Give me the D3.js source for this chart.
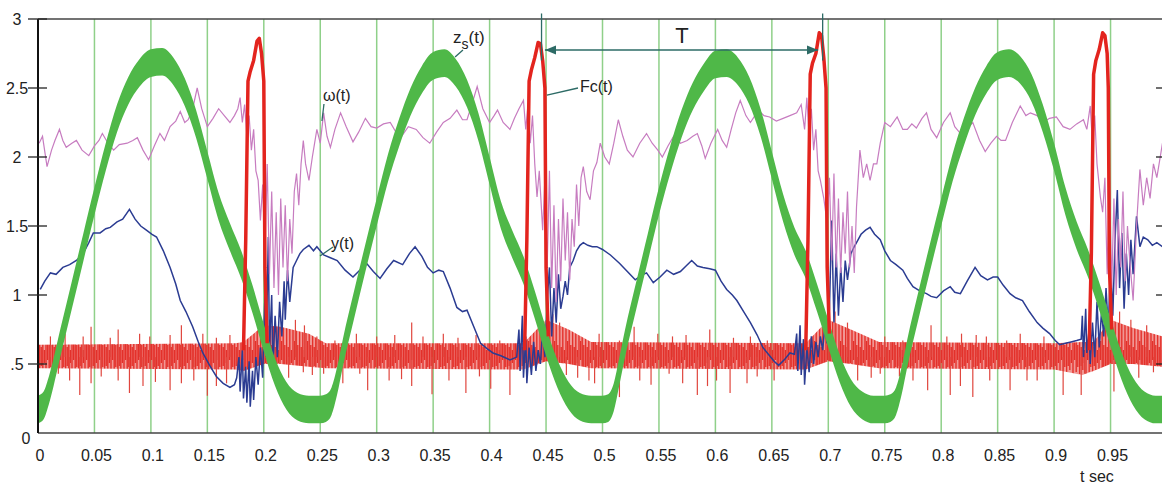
<!DOCTYPE html>
<html>
<head>
<meta charset="utf-8">
<script src="https://cdn.jsdelivr.net/npm/d3@7/dist/d3.min.js"></script>
<style>
  body { margin: 0; background: #fff; }
  text { font-family: "Liberation Sans", Arial, sans-serif; fill: #222; }
</style>
</head>
<body>
<div id="chart"></div>
<script>
// ---- data ----
var xTicks = [0, 0.05, 0.1, 0.15, 0.2, 0.25, 0.3, 0.35, 0.4, 0.45, 0.5, 0.55, 0.6, 0.65, 0.7, 0.75, 0.8, 0.85, 0.9, 0.95]
var xTickLabels = ["0", "0.05", "0.1", "0.15", "0.2", "0.25", "0.3", "0.35", "0.4", "0.45", "0.5", "0.55", "0.6", "0.65", "0.7", "0.75", "0.8", "0.85", "0.9", "0.95"]
var yTicks = [0, 0.5, 1, 1.5, 2, 2.5, 3]
var yTickLabels = ["0", ".5", "1", "1.5", "2", "2.5", "3"]

// zs(t): centre of the thick green band
var zsTime = [0, 0.005, 0.01, 0.02, 0.03, 0.04, 0.05, 0.06, 0.07, 0.08, 0.09,
  0.10, 0.11, 0.12, 0.13, 0.14, 0.15, 0.16, 0.17, 0.18, 0.19,
  0.20, 0.21, 0.22, 0.23, 0.24, 0.25, 0.255, 0.26, 0.265, 0.27, 0.28, 0.29,
  0.30, 0.31, 0.32, 0.33, 0.34, 0.35, 0.36, 0.37, 0.38, 0.39,
  0.40, 0.41, 0.42, 0.43, 0.44, 0.45, 0.46, 0.47, 0.48, 0.49,
  0.50, 0.505, 0.51, 0.515, 0.52, 0.53, 0.54, 0.55, 0.56, 0.57, 0.58, 0.59,
  0.60, 0.61, 0.62, 0.63, 0.64, 0.65, 0.66, 0.67, 0.68, 0.69,
  0.70, 0.71, 0.72, 0.73, 0.74, 0.75, 0.755, 0.76, 0.765, 0.77, 0.78, 0.79,
  0.80, 0.81, 0.82, 0.83, 0.84, 0.85, 0.86, 0.87, 0.88, 0.89,
  0.90, 0.91, 0.92, 0.93, 0.94, 0.95, 0.96, 0.97, 0.98, 0.99, 0.996]
var zsValue = [0.17, 0.2, 0.32, 0.66, 1.0, 1.34, 1.68, 2.0, 2.28, 2.48, 2.61,
  2.68, 2.69, 2.62, 2.47, 2.24, 1.94, 1.64, 1.42, 1.22, 0.97,
  0.69, 0.44, 0.27, 0.19, 0.17, 0.17, 0.18, 0.23, 0.38, 0.58, 0.93, 1.27,
  1.6, 1.92, 2.18, 2.4, 2.56, 2.66, 2.68, 2.61, 2.46, 2.22,
  1.9, 1.58, 1.37, 1.18, 0.93, 0.66, 0.43, 0.27, 0.19, 0.17,
  0.17, 0.18, 0.26, 0.45, 0.65, 1.0, 1.34, 1.68, 1.98, 2.24, 2.44, 2.58,
  2.67, 2.68, 2.62, 2.48, 2.25, 1.94, 1.63, 1.39, 1.22, 0.98,
  0.72, 0.47, 0.29, 0.2, 0.17, 0.17, 0.18, 0.23, 0.38, 0.58, 0.93, 1.27,
  1.6, 1.92, 2.18, 2.4, 2.56, 2.66, 2.68, 2.63, 2.5, 2.28,
  2.0, 1.68, 1.43, 1.23, 0.99, 0.73, 0.48, 0.3, 0.2, 0.17, 0.17]
var zsSpread = 0.1

// y(t)
var yTime = [0.002, 0.006, 0.011, 0.016, 0.022, 0.028, 0.034, 0.040, 0.045, 0.049, 0.055, 0.060, 0.064, 0.070, 0.075, 0.081, 0.086, 0.091, 0.096, 0.101,
  0.105, 0.111, 0.117, 0.122, 0.126, 0.131, 0.137, 0.142, 0.146, 0.152, 0.158, 0.164, 0.170, 0.174, 0.176,
  0.178, 0.179, 0.181, 0.182, 0.184, 0.185, 0.187, 0.188, 0.190, 0.191, 0.193, 0.195, 0.197, 0.199, 0.201, 0.202, 0.204, 0.205, 0.207, 0.208,
  0.210, 0.212, 0.214, 0.216, 0.218, 0.219, 0.221, 0.223, 0.226, 0.229, 0.232, 0.235, 0.240, 0.244, 0.247,
  0.253, 0.259, 0.265, 0.272, 0.279, 0.285, 0.291, 0.297, 0.303, 0.309, 0.315, 0.323, 0.329, 0.334, 0.340, 0.345, 0.350, 0.355, 0.359, 0.365,
  0.371, 0.376, 0.380, 0.386, 0.392, 0.398, 0.403, 0.410, 0.418, 0.424,
  0.426, 0.427, 0.429, 0.430, 0.432, 0.433, 0.435, 0.437, 0.439, 0.441, 0.443, 0.445, 0.447, 0.449, 0.451, 0.453, 0.455, 0.457, 0.459, 0.461,
  0.463, 0.465, 0.467, 0.469, 0.471, 0.474, 0.477, 0.480, 0.483, 0.487, 0.491, 0.495,
  0.500, 0.507, 0.515, 0.522, 0.529, 0.534, 0.539, 0.545, 0.551, 0.557, 0.563, 0.569, 0.574, 0.579, 0.584, 0.589, 0.595, 0.600, 0.605, 0.610,
  0.615, 0.619, 0.625, 0.631, 0.637, 0.642, 0.648, 0.652, 0.656, 0.661, 0.666, 0.670,
  0.672, 0.673, 0.675, 0.676, 0.678, 0.679, 0.681, 0.683, 0.685, 0.687, 0.689, 0.691, 0.693, 0.695, 0.697, 0.699, 0.701, 0.703, 0.705, 0.707,
  0.709, 0.711, 0.713, 0.715, 0.717, 0.720, 0.723, 0.725, 0.729, 0.733, 0.737, 0.741, 0.746,
  0.750, 0.755, 0.760, 0.766, 0.770, 0.775, 0.781, 0.787, 0.791, 0.796, 0.802, 0.808, 0.812, 0.817, 0.823, 0.830, 0.835, 0.841, 0.846, 0.850,
  0.855, 0.861, 0.866, 0.872, 0.878, 0.885, 0.890, 0.896, 0.901, 0.905, 0.910, 0.915, 0.920, 0.924,
  0.925, 0.926, 0.928, 0.929, 0.931, 0.932, 0.934, 0.936, 0.938, 0.940, 0.942, 0.944, 0.946, 0.948, 0.950, 0.952, 0.954, 0.956, 0.958, 0.960,
  0.962, 0.964, 0.966, 0.968, 0.970, 0.973, 0.976, 0.979, 0.983, 0.987, 0.991, 0.996]
var yValue = [1.04, 1.10, 1.16, 1.15, 1.20, 1.22, 1.25, 1.30, 1.38, 1.45, 1.45, 1.48, 1.49, 1.53, 1.55, 1.62, 1.55, 1.50, 1.47, 1.44,
  1.42, 1.32, 1.20, 1.08, 0.96, 0.88, 0.77, 0.66, 0.58, 0.49, 0.41, 0.36, 0.33, 0.35, 0.40,
  0.55, 0.30, 0.60, 0.25, 0.48, 0.22, 0.52, 0.19, 0.45, 0.24, 0.55, 0.35, 0.62, 0.40, 1.0, 0.55, 1.42, 0.60, 1.0, 0.45,
  0.85, 0.55, 0.95, 0.70, 1.10, 0.82, 1.18, 0.95, 1.20, 1.25, 1.30, 1.33, 1.36, 1.32, 1.35,
  1.29, 1.27, 1.25, 1.18, 1.13, 1.18, 1.23, 1.17, 1.12, 1.19, 1.25, 1.22, 1.30, 1.35, 1.28, 1.20, 1.16, 1.18, 1.17, 1.05,
  0.91, 0.88, 0.89, 0.77, 0.65, 0.61, 0.58, 0.56, 0.53, 0.55,
  0.75, 0.45, 0.85, 0.40, 0.70, 0.36, 0.62, 0.42, 0.66, 0.45, 0.60, 0.50, 0.75, 0.55, 0.95, 1.20, 0.70, 1.05, 0.80, 1.15,
  0.90, 0.99, 1.10, 1.0, 1.20, 1.25, 1.32, 1.36, 1.38, 1.36, 1.35, 1.35,
  1.33, 1.29, 1.23, 1.17, 1.11, 1.14, 1.16, 1.09, 1.13, 1.18, 1.15, 1.17, 1.21, 1.25, 1.21, 1.20, 1.19, 1.18, 1.10, 1.04,
  1.00, 0.96, 0.88, 0.80, 0.71, 0.62, 0.56, 0.52, 0.49, 0.53, 0.58, 0.57,
  0.72, 0.45, 0.78, 0.42, 0.68, 0.35, 0.62, 0.44, 0.70, 0.50, 0.66, 0.55, 0.70, 0.60, 0.78, 0.65, 0.9, 1.54, 0.80, 1.30,
  0.85, 1.2, 0.95, 1.25, 1.11, 1.30, 1.35, 1.38, 1.44, 1.47, 1.49, 1.44, 1.40,
  1.32, 1.25, 1.22, 1.18, 1.12, 1.06, 1.03, 1.01, 0.99, 0.98, 1.03, 1.06, 1.02, 1.01, 1.10, 1.20, 1.14, 1.11, 1.13, 1.13,
  1.07, 1.01, 0.98, 0.96, 0.88, 0.80, 0.76, 0.72, 0.67, 0.64, 0.65, 0.66, 0.67, 0.68,
  0.85, 0.55, 0.90, 0.58, 0.75, 0.50, 0.80, 0.55, 0.95, 0.62, 0.88, 0.70, 1.05, 0.75, 1.25, 0.85, 1.4, 1.76, 1.05, 1.45,
  0.90, 1.30, 1.0, 1.4, 1.15, 1.57, 1.35, 1.42, 1.40, 1.36, 1.38, 1.35]

// omega(t)
var wTime = [0.001, 0.004, 0.008, 0.012, 0.015, 0.019, 0.022, 0.025, 0.030, 0.034, 0.039, 0.045, 0.050, 0.054, 0.057, 0.062, 0.067, 0.072, 0.079, 0.084,
  0.088, 0.093, 0.098, 0.103, 0.108, 0.112, 0.117, 0.122, 0.126, 0.130, 0.133, 0.137, 0.141, 0.145, 0.150, 0.155, 0.160, 0.165, 0.170, 0.174,
  0.177, 0.179, 0.181, 0.183, 0.185, 0.187, 0.189, 0.191, 0.193, 0.195, 0.197,
  0.199, 0.201, 0.203, 0.205, 0.207, 0.209, 0.211, 0.213, 0.215, 0.217, 0.219, 0.221, 0.223, 0.225, 0.227, 0.229, 0.231, 0.233, 0.235, 0.237,
  0.240, 0.243, 0.247, 0.250, 0.253, 0.256, 0.259, 0.263, 0.268, 0.273, 0.279, 0.284, 0.290, 0.295, 0.300, 0.306, 0.312, 0.317, 0.322, 0.328,
  0.335, 0.341, 0.347, 0.353, 0.359, 0.365, 0.371, 0.376, 0.380, 0.385, 0.389, 0.394, 0.400, 0.404, 0.407, 0.412, 0.418, 0.422, 0.426, 0.430,
  0.432, 0.434, 0.436, 0.438, 0.440, 0.442, 0.444, 0.447,
  0.449, 0.451, 0.453, 0.455, 0.457, 0.459, 0.461, 0.463, 0.465, 0.467, 0.469, 0.471, 0.473, 0.475, 0.477, 0.479, 0.481, 0.483, 0.486, 0.489,
  0.492, 0.495, 0.498, 0.502, 0.506, 0.510, 0.514, 0.518, 0.522, 0.527, 0.533, 0.539, 0.544, 0.549, 0.553, 0.558, 0.563, 0.569, 0.575, 0.580,
  0.584, 0.588, 0.591, 0.596, 0.602, 0.606, 0.610, 0.614, 0.618, 0.622, 0.627, 0.631, 0.635, 0.638, 0.643, 0.648, 0.654, 0.660, 0.666, 0.672,
  0.676, 0.679, 0.681, 0.683, 0.685, 0.687, 0.689, 0.691, 0.693, 0.696, 0.699,
  0.701, 0.703, 0.705, 0.707, 0.709, 0.711, 0.713, 0.715, 0.717, 0.719, 0.721, 0.723, 0.725, 0.728, 0.731, 0.734, 0.737, 0.740, 0.743, 0.746,
  0.750, 0.755, 0.761, 0.766, 0.770, 0.774, 0.778, 0.783, 0.787, 0.791, 0.796, 0.802, 0.808, 0.812, 0.817, 0.822, 0.828, 0.834, 0.839, 0.844,
  0.849, 0.853, 0.857, 0.863, 0.870, 0.875, 0.879, 0.885, 0.890, 0.896, 0.902, 0.908, 0.914, 0.920, 0.926, 0.929, 0.932, 0.934, 0.936, 0.938,
  0.941, 0.943, 0.945, 0.947, 0.949, 0.951, 0.953, 0.955, 0.957, 0.959, 0.961, 0.963, 0.965, 0.967, 0.970, 0.973, 0.976, 0.979, 0.982, 0.985,
  0.988, 0.991, 0.994, 0.996]
var wValue = [2.10, 2.15, 1.93, 2.05, 2.12, 2.20, 2.12, 2.07, 2.10, 2.12, 2.05, 2.01, 2.08, 2.12, 2.17, 2.10, 2.05, 2.09, 2.10, 2.12,
  2.14, 2.05, 1.98, 2.08, 2.17, 2.12, 2.22, 2.26, 2.33, 2.25, 2.27, 2.35, 2.5, 2.35, 2.22, 2.28, 2.35, 2.30, 2.25, 2.30,
  2.35, 2.43, 2.25, 2.38, 2.15, 2.30, 2.05, 2.2, 1.9, 1.83, 1.54,
  1.8, 1.3, 1.95, 1.15, 1.75, 1.05, 1.6, 1.0, 1.7, 1.2, 1.65, 1.1, 1.55, 1.3, 1.75, 1.88, 1.65, 1.95, 2.12, 1.95,
  1.83, 2.0, 2.20, 2.1, 2.32, 2.15, 2.07, 2.2, 2.32, 2.22, 2.11, 2.18, 2.28, 2.22, 2.21, 2.24, 2.25, 2.18, 2.15, 2.22,
  2.20, 2.14, 2.10, 2.18, 2.25, 2.28, 2.34, 2.27, 2.27, 2.40, 2.51, 2.35, 2.25, 2.3, 2.34, 2.25, 2.20, 2.28, 2.35, 2.41,
  2.2, 2.38, 2.1, 2.3, 1.95, 1.71, 1.9, 1.47,
  1.85, 1.2, 1.9, 1.05, 1.65, 0.95, 1.55, 1.1, 1.7, 1.25, 1.6, 1.11, 1.55, 1.35, 1.8, 1.5, 1.85, 1.93, 1.75, 1.69,
  1.9, 1.96, 2.10, 2.0, 1.95, 2.1, 2.27, 2.15, 2.05, 2.00, 2.1, 2.17, 2.1, 2.05, 2.00, 2.08, 2.15, 2.1, 2.12, 2.15,
  2.17, 2.08, 1.99, 2.1, 2.20, 2.12, 2.07, 2.2, 2.32, 2.41, 2.3, 2.25, 2.3, 2.34, 2.3, 2.29, 2.26, 2.28, 2.3, 2.32,
  2.38, 2.2, 2.43, 2.15, 2.35, 2.05, 2.2, 1.9, 1.83, 1.7, 1.52,
  1.85, 1.25, 1.88, 1.2, 1.7, 1.16, 1.6, 1.3, 1.75, 1.2, 1.5, 1.16, 1.64, 2.05, 1.85, 1.95, 1.83, 1.95, 1.95, 2.10,
  2.25, 2.22, 2.29, 2.2, 2.20, 2.24, 2.21, 2.28, 2.32, 2.2, 2.14, 2.25, 2.32, 2.22, 2.17, 2.2, 2.25, 2.12, 2.04, 2.1,
  2.15, 2.12, 2.12, 2.25, 2.37, 2.3, 2.32, 2.3, 2.25, 2.28, 2.29, 2.22, 2.20, 2.24, 2.27, 2.2, 2.37, 2.1, 2.3, 1.95,
  1.71, 1.6, 1.85, 1.15, 1.86, 1.05, 1.7, 1.0, 1.55, 1.2, 1.75, 1.1, 1.5, 1.25, 0.96, 1.5, 1.91, 1.65, 1.85, 1.70,
  1.95, 1.85, 2.0, 2.1]

// Fc(t): dense noise band, its spikes, and the four pulses
var fcBandTime = [0, 0.175, 0.182, 0.2, 0.215, 0.24, 0.255, 0.43, 0.45, 0.47, 0.49, 0.68, 0.70, 0.72, 0.745, 0.90, 0.925, 0.935, 0.95, 0.97, 0.996]
var fcBandLow = [0.47, 0.46, 0.45, 0.5, 0.5, 0.48, 0.47, 0.46, 0.52, 0.5, 0.47, 0.46, 0.52, 0.5, 0.47, 0.46, 0.42, 0.45, 0.5, 0.5, 0.48]
var fcBandHigh = [0.64, 0.65, 0.66, 0.78, 0.77, 0.72, 0.65, 0.65, 0.82, 0.75, 0.66, 0.65, 0.82, 0.75, 0.66, 0.65, 0.66, 0.66, 0.82, 0.76, 0.7]
var fcLevel = 0.55

var fcSpikeTime = [0.018, 0.028, 0.037, 0.047, 0.056, 0.071, 0.081, 0.093, 0.104, 0.117, 0.127, 0.138, 0.150, 0.158, 0.167,
  0.011, 0.024, 0.040, 0.047, 0.064, 0.071, 0.090, 0.099, 0.117, 0.127, 0.146, 0.158, 0.170,
  0.222, 0.235, 0.243, 0.228, 0.236,
  0.253, 0.270, 0.285, 0.292, 0.311, 0.322, 0.331, 0.349, 0.364, 0.379, 0.391, 0.401, 0.418,
  0.247, 0.263, 0.282, 0.300, 0.316, 0.331, 0.341, 0.359, 0.372, 0.388, 0.409,
  0.468, 0.478, 0.488, 0.456, 0.462,
  0.493, 0.515, 0.533, 0.543, 0.559, 0.571, 0.584, 0.593, 0.601, 0.613, 0.628, 0.637, 0.652,
  0.497, 0.515, 0.528, 0.549, 0.562, 0.574, 0.595, 0.616, 0.631, 0.646,
  0.712, 0.726, 0.738, 0.706, 0.717,
  0.746, 0.763, 0.775, 0.788, 0.808, 0.817, 0.828, 0.843, 0.861, 0.876, 0.885, 0.908, 0.924, 0.927,
  0.750, 0.766, 0.791, 0.805, 0.818, 0.831, 0.840, 0.858, 0.870, 0.891,
  0.953, 0.962, 0.975, 0.988, 0.958, 0.968, 0.982]
var fcSpikeValue = [0.43, 0.38, 0.275, 0.36, 0.41, 0.38, 0.29, 0.34, 0.37, 0.31, 0.36, 0.38, 0.27, 0.34, 0.36,
  0.70, 0.72, 0.70, 0.77, 0.69, 0.75, 0.72, 0.70, 0.71, 0.78, 0.72, 0.69, 0.71,
  0.40, 0.44, 0.42, 0.82, 0.78,
  0.43, 0.36, 0.43, 0.31, 0.38, 0.39, 0.34, 0.28, 0.38, 0.29, 0.41, 0.32, 0.275,
  0.70, 0.67, 0.72, 0.70, 0.71, 0.80, 0.70, 0.72, 0.69, 0.71, 0.67,
  0.42, 0.40, 0.38, 0.86, 0.80,
  0.36, 0.26, 0.38, 0.35, 0.43, 0.36, 0.275, 0.34, 0.38, 0.29, 0.36, 0.41, 0.38,
  0.72, 0.67, 0.77, 0.72, 0.70, 0.71, 0.75, 0.69, 0.70, 0.67,
  0.40, 0.38, 0.40, 0.88, 0.80,
  0.43, 0.41, 0.38, 0.31, 0.275, 0.34, 0.26, 0.38, 0.31, 0.38, 0.38, 0.275, 0.275, 0.43,
  0.70, 0.67, 0.78, 0.70, 0.72, 0.71, 0.70, 0.67, 0.72, 0.70,
  0.30, 0.42, 0.40, 0.44, 0.88, 0.82, 0.78]

var fcPulseTime = [
  [0.182, 0.184, 0.186, 0.188, 0.191, 0.194, 0.196, 0.198, 0.200, 0.201, 0.203],
  [0.431, 0.433, 0.435, 0.437, 0.440, 0.443, 0.445, 0.447, 0.449, 0.450, 0.452],
  [0.680, 0.682, 0.684, 0.686, 0.689, 0.692, 0.694, 0.696, 0.698, 0.699, 0.701],
  [0.931, 0.933, 0.935, 0.937, 0.940, 0.943, 0.945, 0.947, 0.948, 0.949, 0.951]
]
var fcPulseValue = [
  [0.6, 1.4, 2.55, 2.62, 2.7, 2.84, 2.86, 2.75, 2.55, 1.2, 0.65],
  [0.6, 1.4, 2.55, 2.63, 2.72, 2.83, 2.82, 2.7, 2.5, 1.2, 0.7],
  [0.6, 1.4, 2.6, 2.68, 2.75, 2.9, 2.88, 2.72, 2.5, 1.2, 0.72],
  [0.6, 1.3, 2.6, 2.7, 2.78, 2.9, 2.88, 2.75, 2.5, 1.2, 0.75]
]

// period markers and T span
var periodMarks = [0.446, 0.695]
var periodSpan = [0.449, 0.691]

// ---- drawing ----
var width = 1162, height = 486

var svg = d3.select("#chart")
  .append("svg")
  .attr("width", width)
  .attr("height", height)
  .style("display", "block")

var xPositionScale = d3.scaleLinear().domain([0, 1]).range([38, 1167])
var yPositionScale = d3.scaleLinear().domain([0, 3]).range([433, 19])
var xRight = 1162

var teal = "#2d6b66"
var red = "#e3302a"

// texture for the dense Fc noise: short vertical strokes of uneven length
var defs = svg.append("defs")
var hatch = defs.append("pattern")
  .attr("id", "fcnoise")
  .attr("patternUnits", "userSpaceOnUse")
  .attr("width", 13).attr("height", height)
hatch.append("rect").attr("width", 13).attr("height", height)
  .attr("fill", red).attr("fill-opacity", 0.5)
var strokes = [[0.6, 316, 374], [2.2, 347, 366], [3.8, 318, 370], [5.4, 350, 363],
  [7.0, 316, 374], [8.6, 341, 360], [10.2, 320, 372], [11.8, 345, 367]]
strokes.forEach(function(s) {
  hatch.append("line")
    .attr("x1", s[0]).attr("x2", s[0])
    .attr("y1", s[1]).attr("y2", s[2])
    .attr("stroke", red).attr("stroke-width", 1.4)
})

// vertical green grid
svg.selectAll(".grid")
  .data(xTicks.slice(1))
  .enter().append("line")
  .attr("class", "grid")
  .attr("x1", d => xPositionScale(d))
  .attr("x2", d => xPositionScale(d))
  .attr("y1", yPositionScale(3))
  .attr("y2", yPositionScale(0))
  .attr("stroke", "#8fd089")
  .attr("stroke-width", 1.5)

// frame
svg.append("line")
  .attr("x1", xPositionScale(0)).attr("x2", xRight)
  .attr("y1", yPositionScale(3)).attr("y2", yPositionScale(3))
  .attr("stroke", "#444").attr("stroke-width", 1.5)
svg.append("line")
  .attr("x1", xPositionScale(0)).attr("x2", xRight)
  .attr("y1", yPositionScale(0)).attr("y2", yPositionScale(0))
  .attr("stroke", "#444").attr("stroke-width", 1.5)

// Fc band
var bandPts = fcBandTime.map((t, i) => ({ t: t, lo: fcBandLow[i], hi: fcBandHigh[i] }))
svg.append("path")
  .datum(bandPts)
  .attr("d", d3.area()
    .x(d => xPositionScale(d.t))
    .y0(d => yPositionScale(d.lo))
    .y1(d => yPositionScale(d.hi)))
  .attr("fill", "url(#fcnoise)")

svg.selectAll(".spike")
  .data(fcSpikeTime.map((t, i) => ({ t: t, v: fcSpikeValue[i] })))
  .enter().append("line")
  .attr("class", "spike")
  .attr("x1", d => xPositionScale(d.t))
  .attr("x2", d => xPositionScale(d.t))
  .attr("y1", yPositionScale(fcLevel))
  .attr("y2", d => yPositionScale(d.v))
  .attr("stroke", "#e0463e")
  .attr("stroke-width", 1.2)

var line = d3.line()
  .x(d => xPositionScale(d.t))
  .y(d => yPositionScale(d.v))

// y(t)
svg.append("path")
  .datum(yTime.map((t, i) => ({ t: t, v: yValue[i] })))
  .attr("d", line)
  .attr("fill", "none")
  .attr("stroke", "#2b3c92")
  .attr("stroke-width", 1.5)

// omega(t)
svg.append("path")
  .datum(wTime.map((t, i) => ({ t: t, v: wValue[i] })))
  .attr("d", line)
  .attr("fill", "none")
  .attr("stroke", "#c77cc0")
  .attr("stroke-width", 1.2)

// zs(t) thick noisy band
var zsPts = zsTime.map((t, i) => ({ t: t, v: zsValue[i] }))
svg.append("path")
  .datum(zsPts)
  .attr("d", d3.area()
    .curve(d3.curveMonotoneX)
    .x(d => xPositionScale(d.t))
    .y0(d => yPositionScale(d.v - zsSpread))
    .y1(d => yPositionScale(d.v + zsSpread)))
  .attr("fill", "#4fb848")

// Fc pulses
fcPulseTime.forEach(function(ts, k) {
  svg.append("path")
    .datum(ts.map((t, i) => ({ t: t, v: fcPulseValue[k][i] })))
    .attr("d", line)
    .attr("fill", "none")
    .attr("stroke", "#e3241e")
    .attr("stroke-width", 3.5)
    .attr("stroke-linejoin", "round")
})

// left axis line and ticks
svg.append("line")
  .attr("x1", xPositionScale(0)).attr("x2", xPositionScale(0))
  .attr("y1", yPositionScale(3)).attr("y2", yPositionScale(0))
  .attr("stroke", "#111").attr("stroke-width", 2)

svg.selectAll(".ytick")
  .data(yTicks.slice(1))
  .enter().append("line")
  .attr("class", "ytick")
  .attr("x1", xPositionScale(0) - 10)
  .attr("x2", xPositionScale(0) + 9)
  .attr("y1", d => yPositionScale(d))
  .attr("y2", d => yPositionScale(d))
  .attr("stroke", "#222").attr("stroke-width", 1.3)

svg.selectAll(".ytick-r")
  .data(yTicks.slice(1, -1))
  .enter().append("line")
  .attr("class", "ytick-r")
  .attr("x1", xRight - 6)
  .attr("x2", xRight)
  .attr("y1", d => yPositionScale(d))
  .attr("y2", d => yPositionScale(d))
  .attr("stroke", "#222").attr("stroke-width", 1.3)

svg.selectAll(".ylabel")
  .data(yTicks)
  .enter().append("text")
  .attr("class", "ylabel")
  .attr("x", (d, i) => i === 0 ? 26 : 17)
  .attr("y", (d, i) => yPositionScale(d) + (i === 0 ? 11 : 6))
  .attr("text-anchor", "middle")
  .attr("font-size", 16)
  .text((d, i) => yTickLabels[i])

// x labels
svg.selectAll(".xlabel")
  .data(xTicks)
  .enter().append("text")
  .attr("class", "xlabel")
  .attr("x", d => xPositionScale(d) + 2)
  .attr("y", 461)
  .attr("text-anchor", "middle")
  .attr("font-size", 16)
  .text((d, i) => xTickLabels[i])

svg.append("text")
  .attr("x", xPositionScale(0.923))
  .attr("y", 482)
  .attr("font-size", 16)
  .text("t sec")

// period marks and T arrow
svg.selectAll(".pmark")
  .data(periodMarks)
  .enter().append("line")
  .attr("class", "pmark")
  .attr("x1", d => xPositionScale(d))
  .attr("x2", d => xPositionScale(d))
  .attr("y1", yPositionScale(3.04))
  .attr("y2", yPositionScale(2.7))
  .attr("stroke", teal).attr("stroke-width", 1.3)

defs.append("marker")
  .attr("id", "arrow")
  .attr("viewBox", "0 0 10 10")
  .attr("refX", 10).attr("refY", 5)
  .attr("markerWidth", 7).attr("markerHeight", 7)
  .attr("orient", "auto-start-reverse")
  .append("path")
  .attr("d", "M0,1L10,5L0,9Z")
  .attr("fill", teal)

svg.append("line")
  .attr("x1", xPositionScale(periodSpan[0]))
  .attr("x2", xPositionScale(periodSpan[1]))
  .attr("y1", yPositionScale(2.775))
  .attr("y2", yPositionScale(2.775))
  .attr("stroke", teal).attr("stroke-width", 1.6)
  .attr("marker-start", "url(#arrow)")
  .attr("marker-end", "url(#arrow)")

svg.append("text")
  .attr("x", xPositionScale(0.5704))
  .attr("y", yPositionScale(2.826))
  .attr("text-anchor", "middle")
  .attr("font-size", 22)
  .text("T")

// curve labels with leader lines
function leader(t1, v1, t2, v2) {
  svg.append("line")
    .attr("x1", xPositionScale(t1)).attr("y1", yPositionScale(v1))
    .attr("x2", xPositionScale(t2)).attr("y2", yPositionScale(v2))
    .attr("stroke", teal).attr("stroke-width", 1.3)
}

var zsLabel = svg.append("text")
  .attr("x", xPositionScale(0.3676))
  .attr("y", yPositionScale(2.826))
  .attr("font-size", 17)
zsLabel.append("tspan").text("z")
zsLabel.append("tspan").attr("dy", 6).attr("font-size", 14).text("s")
zsLabel.append("tspan").attr("dy", -6).text("(t)")
leader(0.3764, 2.775, 0.3694, 2.725)

svg.append("text")
  .attr("x", xPositionScale(0.480))
  .attr("y", yPositionScale(2.471))
  .attr("font-size", 16)
  .text("Fc(t)")
leader(0.4783, 2.5, 0.4508, 2.449)

svg.append("text")
  .attr("x", xPositionScale(0.2524))
  .attr("y", yPositionScale(2.406))
  .attr("font-size", 16)
  .text("ω(t)")
leader(0.2533, 2.384, 0.2515, 2.261)

svg.append("text")
  .attr("x", xPositionScale(0.2595))
  .attr("y", yPositionScale(1.333))
  .attr("font-size", 16)
  .text("y(t)")
leader(0.2613, 1.348, 0.2498, 1.283)
</script>
</body>
</html>
